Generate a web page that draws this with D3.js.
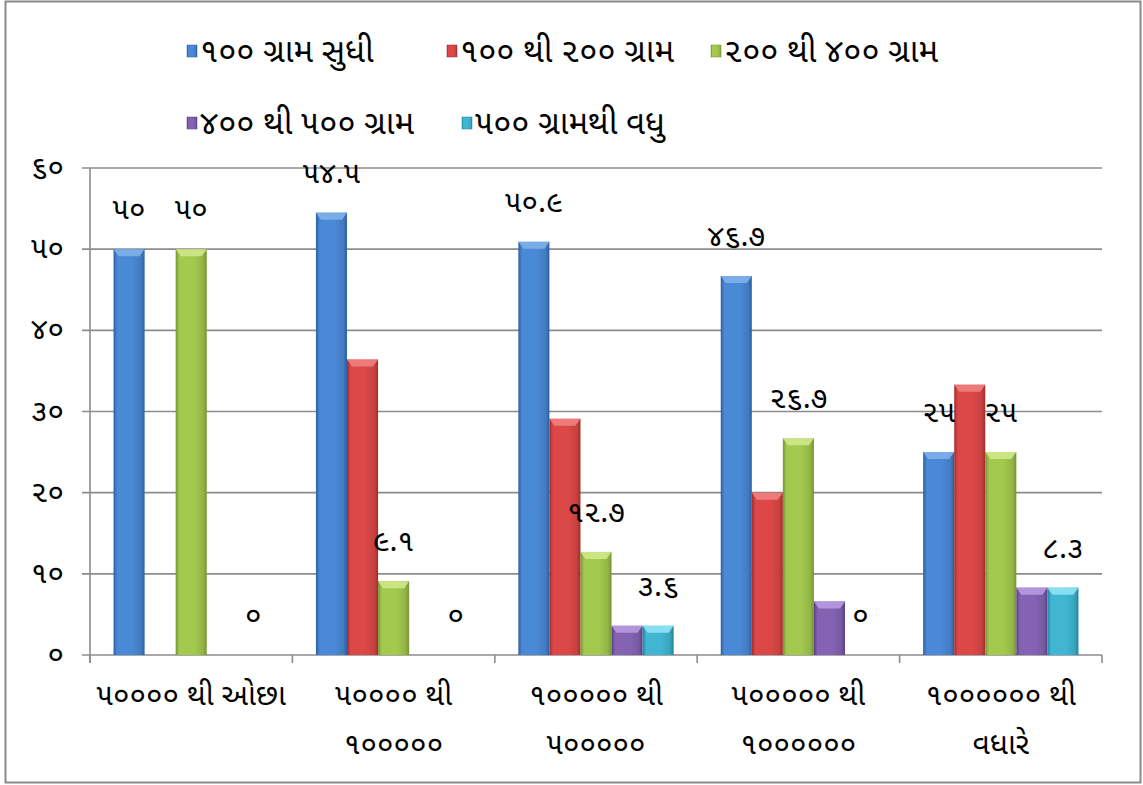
<!DOCTYPE html>
<html><head><meta charset="utf-8">
<script src="https://cdn.jsdelivr.net/npm/d3@7"></script>
<style>
html,body{margin:0;padding:0;background:#fff;}
text{font-family:"Noto Sans Gujarati","Lohit Gujarati","Noto Sans","DejaVu Sans",sans-serif;fill:#000;}
</style></head>
<body><svg id="c" width="1143" height="785"></svg>
<script>
const categories = [["૫૦૦૦૦ થી ઓછા"],["૫૦૦૦૦ થી","૧૦૦૦૦૦"],["૧૦૦૦૦૦ થી","૫૦૦૦૦૦"],["૫૦૦૦૦૦ થી","૧૦૦૦૦૦૦"],["૧૦૦૦૦૦૦ થી","વધારે"]];
const seriesNames = ["૧૦૦ ગ્રામ સુધી","૧૦૦ થી ૨૦૦ ગ્રામ","૨૦૦ થી ૪૦૦ ગ્રામ","૪૦૦ થી ૫૦૦ ગ્રામ","૫૦૦ ગ્રામથી વધુ"];
const s1 = [50, 54.5, 50.9, 46.7, 25];
const s2 = [null, 36.4, 29.1, 20, 33.3];
const s3 = [50, 9.1, 12.7, 26.7, 25];
const s4 = [null, null, 3.6, 6.6, 8.3];
const s5 = [0, 0, 3.6, 0, 8.3];
const labels1 = ["૫૦","૫૪.૫","૫૦.૯","૪૬.૭","૨૫"];
const labels3 = ["૫૦","૯.૧","૧૨.૭","૨૬.૭","૨૫"];
const labels5 = ["૦","૦","૩.૬","૦","૮.૩"];
const yTicks = [0,10,20,30,40,50,60];
const yTickLabels = ["૦","૧૦","૨૦","૩૦","૪૦","૫૦","૬૦"];
const colors = [
  {mid:"#4a89d6", edge:"#2c5fa3", cap:"#7fb0ea"},
  {mid:"#dc4848", edge:"#a52b2b", cap:"#f08080"},
  {mid:"#a3c94e", edge:"#779434", cap:"#cfe88a"},
  {mid:"#8463b3", edge:"#5a3f85", cap:"#b79ae0"},
  {mid:"#40b6d2", edge:"#23849e", cap:"#8fe4f5"}
];
const series = [s1,s2,s3,s4,s5];
const seriesLabels = [labels1,null,labels3,null,labels5];

const svg = d3.select("#c");
svg.append("rect").attr("x",5.5).attr("y",1.5).attr("width",1135).attr("height",781)
  .attr("fill","#fff").attr("stroke","#8a8a8a").attr("stroke-width",2);

const x0=90, x1=1102, yTop=168, yBot=655;
const y = d3.scaleLinear().domain([0,60]).range([yBot,yTop]);
const xg = d3.scaleBand().domain(d3.range(categories.length)).range([x0,x1]).padding(0);
const xs = d3.scaleBand().domain(d3.range(5)).range([0,xg.bandwidth()]).paddingInner(0).paddingOuter(0.758);

const defs = svg.append("defs");
colors.forEach((c,i)=>{
  const g = defs.append("linearGradient").attr("id","g"+i).attr("x1","0").attr("x2","1").attr("y1","0").attr("y2","0");
  g.append("stop").attr("offset","0").attr("stop-color",c.edge);
  g.append("stop").attr("offset","0.12").attr("stop-color",c.mid);
  g.append("stop").attr("offset","0.6").attr("stop-color",c.mid);
  g.append("stop").attr("offset","0.88").attr("stop-color",d3.color(c.mid).darker(0.3));
  g.append("stop").attr("offset","1").attr("stop-color",c.edge);
});

// gridlines
svg.append("g").selectAll("line").data(yTicks).join("line")
  .attr("x1",x0-8).attr("x2",x1).attr("y1",d=>y(d)).attr("y2",d=>y(d))
  .attr("stroke","#8c8c8c").attr("stroke-width",1.6);
svg.append("line").attr("x1",x0).attr("x2",x0).attr("y1",yTop).attr("y2",yBot+8).attr("stroke","#8c8c8c").attr("stroke-width",1.6);
const bounds = d3.range(categories.length+1).map(i=> i<categories.length? xg(i): x1);
svg.append("g").selectAll("line").data(bounds).join("line")
  .attr("x1",d=>d).attr("x2",d=>d).attr("y1",yBot).attr("y2",yBot+8)
  .attr("stroke","#8c8c8c").attr("stroke-width",1.6);

// y labels
svg.append("g").selectAll("text").data(yTicks).join("text")
  .attr("x",64).attr("y",d=>y(d)+9).attr("text-anchor","end").attr("font-size",30)
  .text((d,i)=>yTickLabels[i]);

// bars
series.forEach((s,si)=>{
  const g = svg.append("g");
  s.forEach((v,ci)=>{
    if(v===null || v===0) return;
    const bx = xg(ci)+xs(si), bw = xs.bandwidth();
    const top = y(v), h = yBot-top;
    g.append("rect").attr("x",bx).attr("y",top).attr("width",bw).attr("height",h).attr("fill","url(#g"+si+")");
    const cap = Math.min(7,h);
    g.append("path").attr("d",`M${bx},${top}L${bx+bw},${top}L${bx+bw-5},${top+cap}L${bx+5},${top+cap}Z`)
      .attr("fill",colors[si].cap).attr("opacity",0.9);
  });
});

// data labels
seriesLabels.forEach((lab,si)=>{
  if(!lab) return;
  svg.append("g").selectAll("text").data(lab).join("text")
    .attr("x",(d,ci)=>xg(ci)+xs(si)+xs.bandwidth()/2)
    .attr("y",(d,ci)=>y(series[si][ci])-30)
    .attr("text-anchor","middle").attr("font-size",30).text(d=>d);
});

// x labels
const xl = svg.append("g");
categories.forEach((lines,ci)=>{
  lines.forEach((t,li)=>{
    xl.append("text").attr("x",xg(ci)+xg.bandwidth()/2).attr("y",705+li*49)
      .attr("text-anchor","middle").attr("font-size",30).text(t);
  });
});

// legend
const legendPos = [[187,62],[447,62],[711,62],[187,134],[462,134]];
seriesNames.forEach((n,i)=>{
  const [lx,ly]=legendPos[i];
  const g = svg.append("g");
  g.append("rect").attr("x",lx).attr("y",ly-17).attr("width",10).attr("height",12).attr("fill","url(#g"+i+")").attr("stroke",colors[i].edge).attr("stroke-width",0.5);
  g.append("text").attr("x",lx+13).attr("y",ly).attr("font-size",33).text(n);
});
</script></body></html>
